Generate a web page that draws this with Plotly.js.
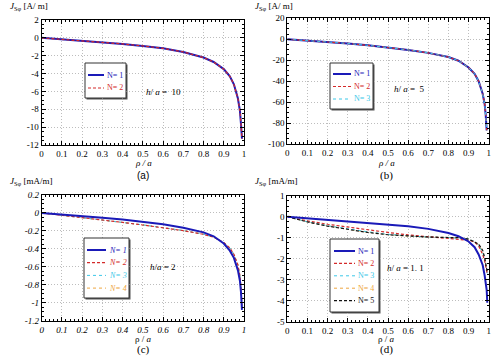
<!DOCTYPE html>
<html>
<head>
<meta charset="utf-8">
<script src="https://cdn.plot.ly/plotly-3.0.1.min.js"></script>
<style>
  html, body { margin: 0; padding: 0; background: #fff; }
  #chart { width: 498px; height: 356px; }
</style>
</head>
<body>
<div id="chart"></div>
<script>
// Surface current density along the disc radius for four spacings h/a,
// each computed with an increasing number of images N.

// ---- panel (a): h/a = 10 ----
const rhoA = [0, 0.1, 0.2, 0.3, 0.4, 0.5, 0.6, 0.7, 0.8, 0.85, 0.9, 0.93, 0.95, 0.97, 0.98, 0.985, 0.99];
const a_N1 = [0, -0.15, -0.3, -0.48, -0.68, -0.9, -1.17, -1.58, -2.2, -2.7, -3.5, -4.3, -5.2, -6.8, -8.2, -9.6, -11.3];
const a_N2 = [0, -0.15, -0.3, -0.48, -0.68, -0.9, -1.17, -1.58, -2.2, -2.7, -3.5, -4.3, -5.2, -6.8, -8.2, -9.6, -11.3];

// ---- panel (b): h/a = 5 ----
const rhoB = [0, 0.1, 0.2, 0.3, 0.4, 0.5, 0.6, 0.7, 0.8, 0.85, 0.9, 0.93, 0.95, 0.97, 0.98, 0.985, 0.99];
const b_N1 = [0, -1.2, -2.6, -4, -5.8, -7.8, -10.2, -13, -17, -20.5, -27, -33, -40, -52, -62, -72, -87];
const b_N2 = [0, -1.2, -2.6, -4, -5.8, -7.8, -10.2, -13, -17, -20.5, -27, -33, -40, -52, -62, -72, -87];
const b_N3 = [0, -1.2, -2.6, -4, -5.8, -7.8, -10.2, -13, -17, -20.5, -27, -33, -40, -52, -62, -72, -87];

// ---- panel (c): h/a = 2 ----
const rhoC = [0, 0.1, 0.2, 0.3, 0.4, 0.5, 0.6, 0.7, 0.8, 0.85, 0.9, 0.93, 0.95, 0.97, 0.98, 0.985, 0.99];
const c_N1 = [0, -0.015, -0.033, -0.053, -0.074, -0.097, -0.125, -0.164, -0.216, -0.26, -0.34, -0.42, -0.5, -0.64, -0.76, -0.88, -1.08];
const c_N2 = [0, -0.025, -0.05, -0.078, -0.105, -0.134, -0.165, -0.197, -0.238, -0.27, -0.33, -0.39, -0.46, -0.58, -0.7, -0.82, -1.05];
const c_N3 = [0, -0.025, -0.05, -0.077, -0.104, -0.133, -0.164, -0.196, -0.237, -0.27, -0.33, -0.39, -0.46, -0.58, -0.7, -0.82, -1.05];
const c_N4 = [0, -0.025, -0.05, -0.077, -0.104, -0.133, -0.164, -0.196, -0.237, -0.27, -0.33, -0.39, -0.46, -0.58, -0.7, -0.82, -1.05];

// ---- panel (d): h/a = 1.1 ----
const rhoD = [0, 0.1, 0.2, 0.3, 0.4, 0.5, 0.6, 0.7, 0.8, 0.85, 0.9, 0.93, 0.95, 0.97, 0.98, 0.99, 0.993];
const d_N1 = [0, -0.07, -0.14, -0.21, -0.28, -0.35, -0.45, -0.58, -0.78, -0.93, -1.18, -1.45, -1.8, -2.3, -2.8, -3.5, -4.1];
const d_N2 = [0, -0.2, -0.36, -0.5, -0.63, -0.75, -0.87, -0.96, -1.05, -1.1, -1.12, -1.2, -1.4, -1.8, -2.1, -2.6, -2.75];
const d_N3 = [0, -0.24, -0.43, -0.58, -0.72, -0.84, -0.92, -0.97, -1.0, -1.02, -1.06, -1.18, -1.35, -1.7, -2.0, -2.55, -2.7];
const d_N4 = [0, -0.25, -0.44, -0.59, -0.74, -0.85, -0.93, -0.97, -0.99, -1.0, -1.06, -1.18, -1.32, -1.65, -1.97, -2.5, -2.65];
const d_N5 = [0, -0.25, -0.45, -0.6, -0.75, -0.86, -0.93, -0.97, -0.99, -1.0, -1.07, -1.2, -1.3, -1.6, -1.95, -2.5, -2.65];

// ---- legend entries (image count per series) ----
const legendA = [1, 2];
const legendB = [1, 2, 3];
const legendC = [1, 2, 3, 4];
const legendD = [1, 2, 3, 4, 5];

// ---- tick labels ----
const xTickVals = [0, 0.1, 0.2, 0.3, 0.4, 0.5, 0.6, 0.7, 0.8, 0.9, 1];
const xTickText = ['0', '0.1', '0.2', '0.3', '0.4', '0.5', '0.6', '0.7', '0.8', '0.9', '1'];
const yTickValsA = [2, 0, -2, -4, -6, -8, -10, -12];
const yTickTextA = ['2', '0', '-2', '-4', '-6', '-8', '-10', '-12'];
const yTickValsB = [20, 0, -20, -40, -60, -80, -100];
const yTickTextB = ['20', '0', '-20', '-40', '-60', '-80', '-100'];
const yTickValsC = [0.2, 0, -0.2, -0.4, -0.6, -0.8, -1, -1.2];
const yTickTextC = ['0.2', '0', '-0.2', '-0.4', '-0.6', '-0.8', '-1', '-1.2'];
const yTickValsD = [1, 0, -1, -2, -3, -4, -5];
const yTickTextD = ['1', '0', '-1', '-2', '-3', '-4', '-5'];

const SERIF = 'Liberation Serif, Times New Roman, serif';

// line style per image count N
const styles = {
  1: { color: '#1a1ab8', width: 2, dash: 'solid' },
  2: { color: '#d42a2a', width: 1.2, dash: '3px,2px' },
  3: { color: '#3cc8e8', width: 1, dash: 'dot' },
  4: { color: '#eea640', width: 1, dash: 'dot' },
  5: { color: '#111111', width: 1.2, dash: '3px,2px' }
};

function trace(x, y, n, xa, ya) {
  const s = styles[n];
  return {
    x: x, y: y, type: 'scatter', mode: 'lines', name: 'N= ' + n,
    line: { color: s.color, width: s.width, dash: s.dash },
    xaxis: xa, yaxis: ya, showlegend: false, hoverinfo: 'skip'
  };
}

const data = [
  trace(rhoA, a_N1, 1, 'x', 'y'),
  trace(rhoA, a_N2, 2, 'x', 'y'),

  trace(rhoB, b_N1, 1, 'x2', 'y2'),
  trace(rhoB, b_N2, 2, 'x2', 'y2'),
  trace(rhoB, b_N3, 3, 'x2', 'y2'),

  trace(rhoC, c_N4, 4, 'x3', 'y3'),
  trace(rhoC, c_N3, 3, 'x3', 'y3'),
  trace(rhoC, c_N2, 2, 'x3', 'y3'),
  trace(rhoC, c_N1, 1, 'x3', 'y3'),

  trace(rhoD, d_N4, 4, 'x4', 'y4'),
  trace(rhoD, d_N3, 3, 'x4', 'y4'),
  trace(rhoD, d_N2, 2, 'x4', 'y4'),
  trace(rhoD, d_N5, 5, 'x4', 'y4'),
  trace(rhoD, d_N1, 1, 'x4', 'y4')
];

function xAxis(domain, anchor, italic) {
  return {
    domain: domain, anchor: anchor, range: [0, 1],
    tickmode: 'array', tickvals: xTickVals, ticktext: xTickText,
    ticks: 'inside', ticklen: 4, tickcolor: '#000', mirror: 'ticks',
    showline: true, linecolor: '#000', linewidth: 1,
    showgrid: true, gridcolor: '#bdbdbd', griddash: '1px,2px', gridwidth: 1,
    zeroline: false,
    minor: { dtick: 0.02, tick0: 0, ticks: 'inside', ticklen: 2, tickcolor: '#000', showgrid: false },
    tickfont: { family: SERIF, size: 9, color: '#000', style: italic ? 'italic' : 'normal' },
    fixedrange: true
  };
}

function yAxis(domain, anchor, range, vals, text, minorStep, italic) {
  return {
    domain: domain, anchor: anchor, range: range,
    tickmode: 'array', tickvals: vals, ticktext: text,
    ticks: 'inside', ticklen: 4, tickcolor: '#000', mirror: 'ticks',
    showline: true, linecolor: '#000', linewidth: 1,
    showgrid: true, gridcolor: '#bdbdbd', griddash: '1px,2px', gridwidth: 1,
    zeroline: false,
    minor: { dtick: minorStep, tick0: 0, ticks: 'inside', ticklen: 2, tickcolor: '#000', showgrid: false },
    tickfont: { family: SERIF, size: 9, color: '#000', style: italic ? 'italic' : 'normal' },
    fixedrange: true
  };
}

const W = 498, H = 356;
const px = v => v / W, py = v => 1 - v / H;

function note(text, x, y, opts) {
  return Object.assign({
    text: text, x: px(x), y: py(y), xref: 'paper', yref: 'paper',
    xanchor: 'center', yanchor: 'middle',
    showarrow: false, font: { family: SERIF, size: 9, color: '#000' }
  }, opts || {});
}

// Boxed key: frame with a drop shadow, a short line sample and a coloured label per entry.
const shapes = [];
const annotations = [];
function legendBlock(entries, box, lineX0, lineX1, firstY, step, italic) {
  shapes.push({ type: 'rect', xref: 'paper', yref: 'paper', layer: 'below',
    x0: px(box.x0 + 1.5), x1: px(box.x1 + 1.5), y0: py(box.y1 + 1.5), y1: py(box.y0 + 1.5),
    line: { width: 0 }, fillcolor: '#555' });
  shapes.push({ type: 'rect', xref: 'paper', yref: 'paper',
    x0: px(box.x0), x1: px(box.x1), y0: py(box.y1), y1: py(box.y0),
    line: { color: '#333', width: 1 }, fillcolor: '#fff' });
  entries.forEach((n, i) => {
    const s = styles[n];
    const y = firstY + i * step;
    shapes.push({ type: 'line', xref: 'paper', yref: 'paper',
      x0: px(lineX0), x1: px(lineX1), y0: py(y), y1: py(y),
      line: { color: s.color, width: s.width, dash: s.dash } });
    const t = 'N= ' + n;
    annotations.push(note(italic ? '<i>' + t + '</i>' : t, lineX1 + 0.5, y,
      { xanchor: 'left', font: { family: SERIF, size: 8, color: s.color } }));
  });
}

legendBlock(legendA, { x0: 85, x1: 126, y0: 63, y1: 98 }, 88, 104, 75, 13, false);
legendBlock(legendB, { x0: 330, x1: 373, y0: 63, y1: 109 }, 333, 351, 74, 12.5, false);
legendBlock(legendC, { x0: 84, x1: 129, y0: 238, y1: 298 }, 87, 106, 250, 12.7, true);
legendBlock(legendD, { x0: 330, x1: 379, y0: 239, y1: 312 }, 334, 355, 251, 12.4, false);

annotations.push(
  // quantity labels
  note('<i>J</i><sub>Sφ</sub> [A/ m]', 8, 6, { xanchor: 'left' }),
  note('<i>J</i><sub>Sφ</sub> [A/ m]', 253, 6, { xanchor: 'left' }),
  note('<i>J</i><sub>Sφ</sub> [mA/m]', 8, 181, { xanchor: 'left' }),
  note('<i>J</i><sub>Sφ</sub> [mA/m]', 253, 181, { xanchor: 'left' }),
  note('<i>ρ / a</i>', 143, 163),
  note('<i>ρ / a</i>', 386, 163),
  note('ρ / <i>a</i>', 143, 339),
  note('ρ / <i>a</i>', 386, 339),
  // spacing of each case
  note('<i>h</i>/ <i>a</i> =  10', 163, 92),
  note('<i>h</i>/ <i>a</i> =  5', 409, 89),
  note('<i>h</i>/<i>a</i> = 2', 163, 267),
  note('<i>h</i>/ <i>a</i> = 1. 1', 405, 268),
  // panel captions
  note('(a)', 143, 175, { font: { family: 'Liberation Sans, Arial, sans-serif', size: 10, color: '#000' } }),
  note('(b)', 386, 175, { font: { family: SERIF, size: 11, color: '#000' } }),
  note('(c)', 143, 349.5, { font: { family: SERIF, size: 11, color: '#000' } }),
  note('(d)', 386, 349.5, { font: { family: SERIF, size: 11, color: '#000' } })
);

const layout = {
  width: W, height: H,
  margin: { l: 0, r: 0, t: 0, b: 0 },
  paper_bgcolor: '#fff', plot_bgcolor: '#fff',
  font: { family: SERIF, size: 9, color: '#000' },
  showlegend: false,
  xaxis: xAxis([px(41.5), px(244)], 'y', false),
  yaxis: yAxis([py(145), py(20)], 'x', [-12, 2], yTickValsA, yTickTextA, 0.5, false),
  xaxis2: xAxis([px(287.3), px(488.7)], 'y2', false),
  yaxis2: yAxis([py(144), py(18.3)], 'x2', [-100, 20], yTickValsB, yTickTextB, 5, false),
  xaxis3: xAxis([px(41.7), px(244)], 'y3', true),
  yaxis3: yAxis([py(320.7), py(195)], 'x3', [-1.2, 0.2], yTickValsC, yTickTextC, 0.05, true),
  xaxis4: xAxis([px(287.3), px(488.7)], 'y4', false),
  yaxis4: yAxis([py(321.7), py(195.7)], 'x4', [-5, 1], yTickValsD, yTickTextD, 0.25, false),
  shapes: shapes,
  annotations: annotations
};

Plotly.newPlot('chart', data, layout, { staticPlot: true, displayModeBar: false });
</script>
</body>
</html>
